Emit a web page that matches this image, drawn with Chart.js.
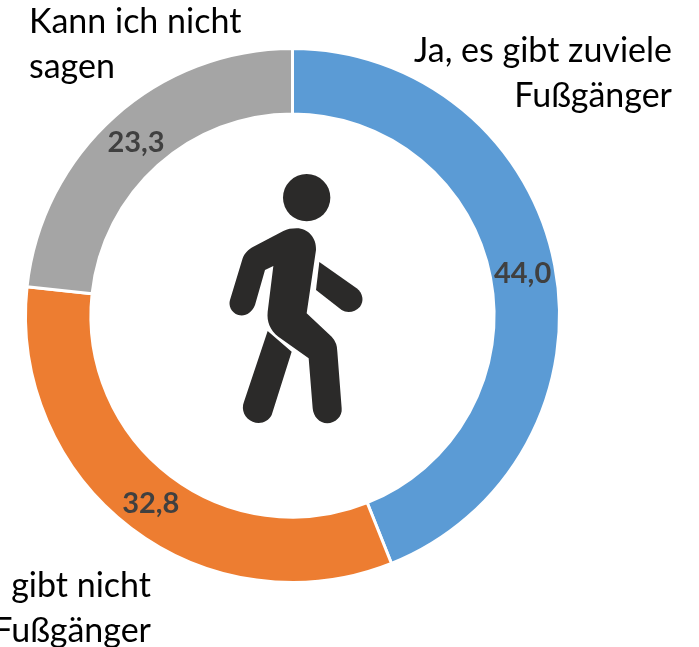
<!DOCTYPE html>
<html>
<head>
<meta charset="utf-8">
<style>html,body{margin:0;padding:0;background:#fff;overflow:hidden}#box{width:699px;height:647px;position:relative}</style>
<script src="https://cdn.jsdelivr.net/npm/chart.js@4"></script>
</head>
<body>
<div id="box"><canvas id="c"></canvas></div>
<script>
const categories = [
  ["Ja, es gibt zuviele", "Fußgänger"],
  ["gibt nicht", "Fußgänger"],
  ["Kann ich nicht", "sagen"]
];
const values = [44.0, 32.8, 23.3];
const colors = ["#5B9BD5", "#ED7D31", "#A5A5A5"];

const FONT = 'Lato, Carlito, "Open Sans", sans-serif';

const labelPlacement = [
  {x: 672, y: 62, align: "right"},
  {x: 151, y: 597, align: "right"},
  {x: 29, y: 33, align: "left"}
];

const overlay = {
  id: "overlay",
  afterDraw(chart) {
    const ctx = chart.ctx;
    const meta = chart.getDatasetMeta(0);
    ctx.save();
    // value labels
    ctx.font = "bold 29px " + FONT;
    ctx.fillStyle = "#404040";
    ctx.textAlign = "center";
    ctx.textBaseline = "middle";
    meta.data.forEach((arc, i) => {
      const p = arc.getCenterPoint();
      ctx.fillText(values[i].toFixed(1).replace(".", ","), p.x, p.y + 2);
    });
    // category labels
    ctx.font = "34px " + FONT;
    ctx.fillStyle = "#000";
    ctx.textBaseline = "alphabetic";
    categories.forEach((lines, i) => {
      const pl = labelPlacement[i];
      ctx.textAlign = pl.align;
      lines.forEach((t, j) => ctx.fillText(t, pl.x, pl.y + j * 45));
    });
    // walking figure
    ctx.translate(200, 160);
    ctx.scale(1 / 3, 1 / 3);
    ctx.fillStyle = "#2b2a29";
    ctx.beginPath();
    ctx.arc(320, 113, 71, 0, Math.PI * 2);
    ctx.fill();
    ctx.fill(new Path2D("M290 205C325 205 350 235 348 270L320 460L395 530Q412 548 412 575L425 745C428 770 405 790 382 790C358 790 340 770 338 745L326 595L235 530C210 510 200 485 203 455L220 318L195 330L165 435C155 460 135 470 115 465C92 458 85 435 90 420L128 295C133 280 145 268 160 260L250 213C262 207 275 205 290 205Z"));
    ctx.fill(new Path2D("M203 513L275 575L215 765C205 785 180 795 158 785C135 775 122 750 132 725Z"));
    ctx.fill(new Path2D("M358 306L470 385C490 400 492 425 480 440C465 458 440 460 425 450L348 390Z"));
    ctx.restore();
  }
};

new Chart(document.getElementById("c"), {
  type: "doughnut",
  data: {
    labels: categories,
    datasets: [{
      data: values,
      backgroundColor: colors,
      borderColor: "#fff",
      borderWidth: 3,
      hoverOffset: 0
    }]
  },
  options: {
    responsive: true,
    maintainAspectRatio: false,
    animation: false,
    radius: 267,
    cutout: "75.5%",
    layout: {padding: {left: 27, right: 141, top: 50, bottom: 66}},
    plugins: {legend: {display: false}, tooltip: {enabled: false}, title: {display: false}}
  },
  plugins: [overlay]
});
</script>
</body>
</html>
